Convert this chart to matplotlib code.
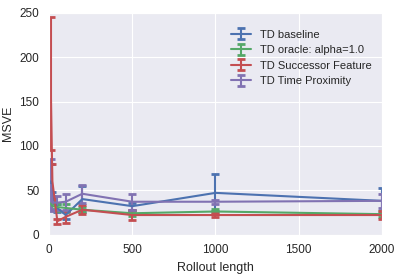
import numpy as np
import matplotlib
matplotlib.use("Agg")
import matplotlib.pyplot as plt
import seaborn as sns

sns.set_style("darkgrid")
plt.rcParams['font.family'] = ['Liberation Sans', 'DejaVu Sans']
plt.rcParams['font.size'] = 8

# rollout lengths
rollout = [10, 20, 50, 100, 200, 500, 1000, 2000]

baseline_mean = [60, 42, 30, 22, 40, 32, 47, 38]
baseline_err = [20, 6, 5, 4, 15, 4, 21, 15]

oracle_mean = [35, 32, 31, 30, 28, 24, 26, 23]
oracle_err = [6, 4, 4, 5, 3, 3, 3, 3]

sf_mean = [170, 60, 15, 20, 28, 22, 22, 22]
sf_err = [75, 20, 3, 7, 5, 6, 2, 5]

prox_mean = [56, 36, 36, 37, 46, 37, 37, 38]
prox_err = [29, 8, 8, 9, 10, 9, 2, 8]

labels = ["TD baseline", "TD oracle: alpha=1.0", "TD Successor Feature", "TD Time Proximity"]
colors = ["#4C72B0", "#55A868", "#C44E52", "#8172B2"]

fig = plt.figure(figsize=(4.02, 2.74), dpi=100)
ax = fig.add_axes([0.122, 0.144, 0.828, 0.809])

series = [(baseline_mean, baseline_err), (oracle_mean, oracle_err),
          (sf_mean, sf_err), (prox_mean, prox_err)]
for (m, e), lab, c in zip(series, labels, colors):
    ax.errorbar(rollout, m, yerr=e, label=lab, color=c, lw=1.5,
                capsize=3, capthick=2, elinewidth=1.5)

ax.set_xlim(0, 2000)
ax.set_ylim(0, 250)
ax.set_xticks([0, 500, 1000, 1500, 2000])
ax.set_yticks([0, 50, 100, 150, 200, 250])
ax.tick_params(labelsize=8.5)
ax.set_xlabel("Rollout length", fontsize=9)
ax.set_ylabel("MSVE", fontsize=9)
ax.legend(loc="upper right", frameon=False, fontsize=8,
          handlelength=1.8, bbox_to_anchor=(1.0, 0.97))

fig.savefig("out.png", dpi=100)
